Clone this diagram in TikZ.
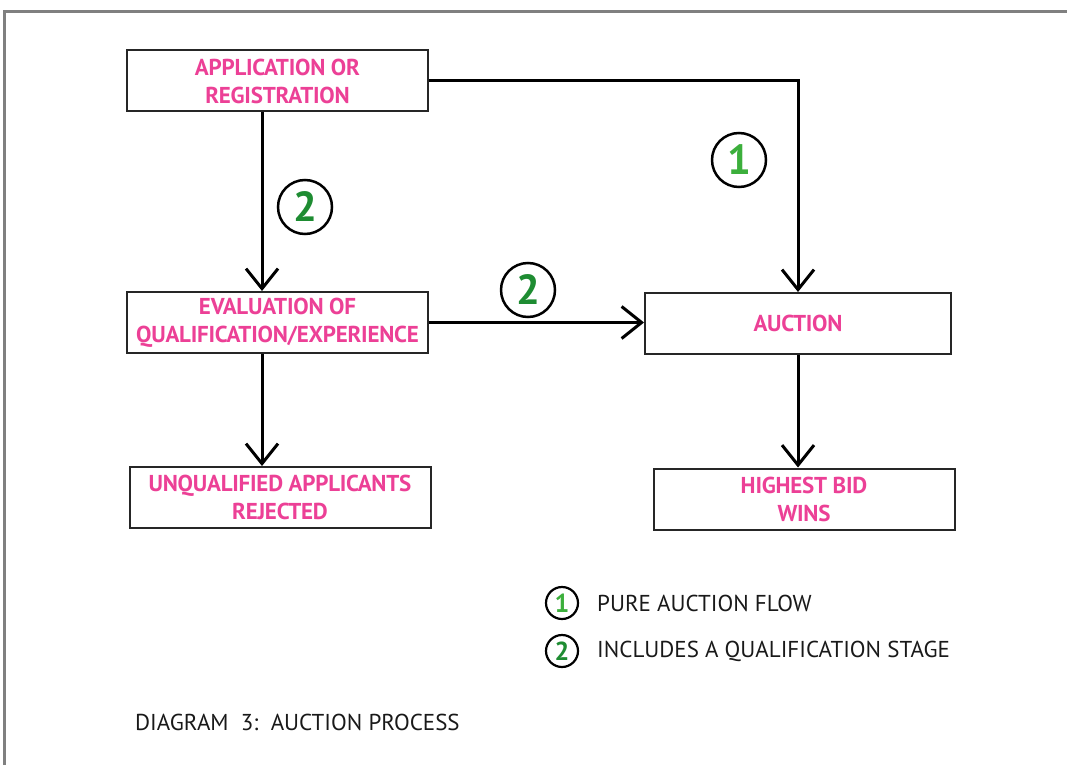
\documentclass[tikz,border=0pt]{standalone}
\usepackage{fontspec}
\setmainfont{PT Sans}
\usetikzlibrary{arrows.meta}
\definecolor{boxpink}{RGB}{236,64,150}
\definecolor{numgreen}{RGB}{60,175,60}
\definecolor{numgreendk}{RGB}{30,140,50}
\definecolor{framegray}{RGB}{128,128,128}
\tikzset{
  stagebox/.style={draw=black!85, line width=2pt, minimum width=301pt, minimum height=61pt,
    inner sep=0pt, align=center, text=boxpink,
    font=\fontsize{23}{28}\selectfont\bfseries\addfontfeature{LetterSpace=-1}},
  flow/.style={line width=3pt, -{Straight Barb[length=20pt,width=32pt,line width=3pt]}},
  bignum/.style={circle, draw=black, line width=2.5pt, minimum size=54pt, inner sep=0pt,
    font=\fontsize{42}{42}\selectfont\bfseries},
  smallnum/.style={circle, draw=black, line width=2.2pt, minimum size=32pt, inner sep=0pt,
    font=\fontsize{26}{26}\selectfont\bfseries},
  legendtext/.style={anchor=west, inner sep=0pt, text=black!90,
    font=\fontsize{23}{23}\selectfont}
}
\begin{document}
\begin{tikzpicture}[x=1pt,y=-1pt]
  \useasboundingbox (0,0) rectangle (1067,765);
  % page frame
  \draw[framegray, line width=3pt] (4,765) -- (4,12) -- (1067,12);

  % stages
  \node[stagebox] (app) at (277.5,81) {APPLICATION OR\\REGISTRATION};
  \node[stagebox] (eval) at (277.5,322.5) {EVALUATION OF\\QUALIFICATION/EXPERIENCE};
  \node[stagebox] (unq) at (280,497.5) {UNQUALIFIED APPLICANTS\\REJECTED};
  \node[stagebox, minimum width=306pt] (auc) at (798,323.5) {AUCTION};
  \node[stagebox] (high) at (804,499) {HIGHEST BID\\WINS};

  % connectors
  \draw[flow] ([xshift=-15.5pt]app.south) -- ([xshift=-15.5pt]eval.north);
  \draw[flow] (app.east) -| (auc.north);
  \draw[flow] (eval.east) -- (eval.east -| auc.west);
  \draw[flow] ([xshift=-15.5pt]eval.south) -- ([xshift=-15.5pt]eval.south |- unq.north);
  \draw[flow] (auc.south) -- (auc.south |- high.north);

  % route markers
  \node[bignum, text=numgreen] (m1) at (739,160) {1};
  \node[bignum, text=numgreendk] (m2a) at (305,207) {2};
  \node[bignum, text=numgreendk] (m2b) at (528,290) {2};

  % legend
  \node[smallnum, text=numgreen] (l1) at (562,603) {1};
  \node[smallnum, text=numgreendk] (l2) at (562,651) {2};
  \node[legendtext] (t1) at (597,603) {PURE AUCTION FLOW};
  \node[legendtext] (t2) at (597,651) {INCLUDES A QUALIFICATION STAGE};

  % caption
  \node[legendtext] (cap) at (135,722) {DIAGRAM\ \ 3:\ \ AUCTION PROCESS};
\end{tikzpicture}
\end{document}
